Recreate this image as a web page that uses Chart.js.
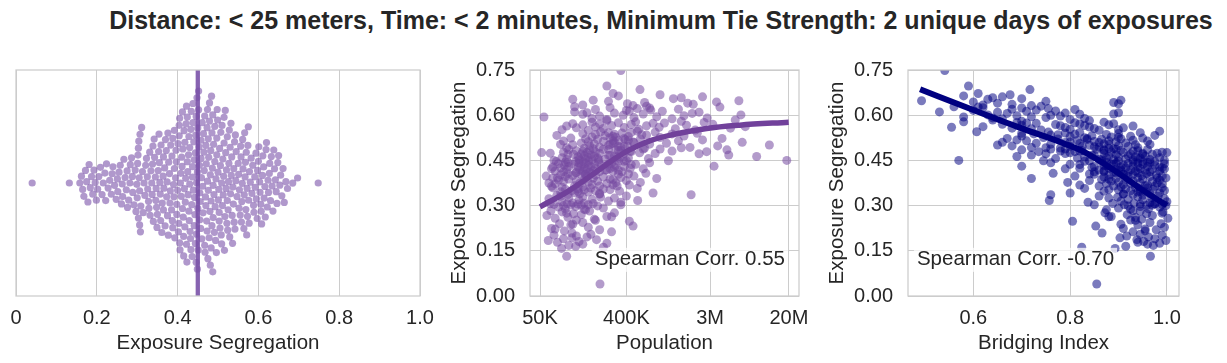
<!DOCTYPE html>
<html>
<head>
<meta charset="utf-8">
<script src="https://cdn.jsdelivr.net/npm/chart.js@4.4.0/dist/chart.umd.min.js"></script>
<style>
  body { margin: 0; background: #fff; width: 1227px; height: 363px; overflow: hidden; position: relative;
         font-family: "Liberation Sans", Arial, Helvetica, sans-serif; }
  #title { position: absolute; top: 6px; left: 0; width: 1322px; text-align: center; font-weight: bold;
           font-size: 25px; color: #262626; white-space: nowrap; }
  canvas { position: absolute; top: 50px; }
</style>
</head>
<body>
<div id="title">Distance: &lt; 25 meters, Time: &lt; 2 minutes, Minimum Tie Strength: 2 unique days of exposures</div>
<canvas id="swarm" width="440" height="313" style="left:0px"></canvas>
<canvas id="popChart" width="380" height="313" style="left:440px"></canvas>
<canvas id="bridgeChart" width="407" height="313" style="left:820px"></canvas>
<script>
// one entry per county: exposure segregation, population (thousands), bridging index
const segregation = [
  0.040, 0.132, 0.158, 0.162, 0.165, 0.168, 0.172, 0.175, 0.178, 0.181,
  0.184, 0.187, 0.190, 0.193, 0.196, 0.199, 0.202, 0.205, 0.209, 0.213,
  0.216, 0.220, 0.224, 0.228, 0.232, 0.236, 0.240, 0.244, 0.248, 0.252,
  0.255, 0.258, 0.261, 0.264, 0.267, 0.270, 0.273, 0.276, 0.279, 0.282,
  0.283, 0.286, 0.289, 0.292, 0.295, 0.297, 0.299, 0.300, 0.301, 0.302,
  0.303, 0.304, 0.305, 0.306, 0.307, 0.308, 0.309, 0.311, 0.313, 0.315,
  0.317, 0.319, 0.321, 0.323, 0.325, 0.326, 0.328, 0.329, 0.331, 0.332,
  0.334, 0.336, 0.337, 0.339, 0.340, 0.342, 0.343, 0.345, 0.346, 0.348,
  0.349, 0.350, 0.352, 0.353, 0.354, 0.355, 0.356, 0.357, 0.358, 0.359,
  0.361, 0.362, 0.364, 0.365, 0.366, 0.368, 0.369, 0.370, 0.372, 0.373,
  0.374, 0.376, 0.377, 0.378, 0.380, 0.381, 0.382, 0.383, 0.385, 0.386,
  0.387, 0.388, 0.390, 0.391, 0.392, 0.393, 0.395, 0.396, 0.397, 0.398,
  0.400, 0.401, 0.402, 0.403, 0.404, 0.405, 0.406, 0.407, 0.408, 0.409,
  0.410, 0.411, 0.412, 0.413, 0.414, 0.415, 0.416, 0.417, 0.418, 0.419,
  0.420, 0.421, 0.422, 0.423, 0.424, 0.425, 0.426, 0.427, 0.428, 0.429,
  0.430, 0.431, 0.432, 0.433, 0.434, 0.435, 0.436, 0.437, 0.438, 0.439,
  0.440, 0.441, 0.442, 0.443, 0.444, 0.445, 0.446, 0.447, 0.448, 0.449,
  0.450, 0.451, 0.452, 0.453, 0.454, 0.455, 0.456, 0.457, 0.458, 0.459,
  0.460, 0.461, 0.462, 0.463, 0.464, 0.465, 0.466, 0.467, 0.468, 0.469,
  0.470, 0.471, 0.472, 0.473, 0.474, 0.475, 0.476, 0.477, 0.478, 0.479,
  0.480, 0.481, 0.482, 0.483, 0.484, 0.485, 0.486, 0.487, 0.488, 0.489,
  0.450, 0.452, 0.455, 0.458, 0.404, 0.392, 0.467, 0.470, 0.473, 0.476,
  0.490, 0.491, 0.492, 0.493, 0.494, 0.496, 0.497, 0.498, 0.499, 0.500,
  0.501, 0.502, 0.504, 0.505, 0.506, 0.507, 0.508, 0.509, 0.510, 0.512,
  0.513, 0.514, 0.515, 0.516, 0.517, 0.518, 0.520, 0.521, 0.522, 0.523,
  0.524, 0.525, 0.526, 0.528, 0.529, 0.530, 0.531, 0.532, 0.533, 0.534,
  0.536, 0.537, 0.538, 0.539, 0.540, 0.541, 0.542, 0.544, 0.545, 0.547,
  0.550, 0.551, 0.552, 0.553, 0.555, 0.556, 0.557, 0.558, 0.559, 0.560,
  0.561, 0.562, 0.564, 0.565, 0.566, 0.567, 0.568, 0.569, 0.570, 0.571,
  0.572, 0.573, 0.574, 0.575, 0.576, 0.577, 0.578, 0.580, 0.582, 0.584,
  0.586, 0.588, 0.589, 0.591, 0.592, 0.594, 0.595, 0.597, 0.598, 0.600,
  0.601, 0.603, 0.604, 0.606, 0.607, 0.608, 0.610, 0.611, 0.613, 0.614,
  0.616, 0.617, 0.619, 0.620, 0.622, 0.624, 0.625, 0.627, 0.628, 0.630,
  0.632, 0.634, 0.636, 0.638, 0.640, 0.642, 0.644, 0.646, 0.648, 0.650,
  0.653, 0.655, 0.658, 0.661, 0.664, 0.668, 0.672, 0.685, 0.697, 0.748,
  0.222, 0.238, 0.251, 0.263, 0.275, 0.288, 0.303, 0.306, 0.338, 0.347,
  0.365, 0.375, 0.388, 0.398, 0.405, 0.415, 0.422, 0.430, 0.438, 0.446,
  0.412, 0.418, 0.424, 0.428, 0.433, 0.437, 0.441, 0.444, 0.447, 0.449,
  0.515, 0.523, 0.474, 0.479, 0.483, 0.487, 0.492, 0.497, 0.503, 0.509,
  0.481, 0.485, 0.488, 0.495, 0.503, 0.511, 0.519, 0.527, 0.535, 0.543
];
const populationK = [
  212, 95, 84, 230, 118, 100, 140, 250, 76, 128,
  61, 195, 88, 108, 155, 120, 70, 170, 108, 280,
  90, 210, 66, 160, 470, 105, 80, 140, 430, 120,
  185, 72, 98, 250, 59, 135, 112, 300, 85, 165,
  65, 150, 92, 230, 78, 118, 200, 88, 135, 105,
  160, 70, 125, 96, 180, 145, 110, 350, 85, 260,
  525, 128, 175, 62, 300, 100, 215, 140, 82, 400,
  75, 1900, 98, 130, 210, 760, 115, 160, 82, 340,
  190, 108, 145, 270, 92, 230, 125, 520, 170, 68,
  85, 140, 66, 210, 115, 430, 290, 175, 72, 250,
  130, 310, 560, 160, 88, 200, 120, 400, 78, 145,
  290, 100, 830, 180, 68, 350, 230, 92, 155, 480,
  110, 190, 82, 135, 330, 150, 98, 640, 170, 118,
  120, 165, 88, 210, 140, 72, 180, 330, 250, 130,
  95, 155, 600, 270, 190, 82, 145, 300, 125, 170,
  100, 3300, 135, 220, 90, 160, 450, 112, 185, 78,
  150, 128, 700, 98, 205, 142, 118, 380, 162, 1100,
  19000, 130, 175, 95, 240, 150, 680, 340, 200, 85,
  160, 320, 125, 9200, 185, 300, 145, 260, 4700, 170,
  98, 135, 2300, 210, 380, 550, 155, 88, 190, 2760,
  140, 1200, 120, 350, 165, 4500, 100, 230, 900, 180,
  70, 205, 128, 420, 148, 76, 270, 112, 800, 52,
  145, 620, 95, 1850, 210, 330, 380, 3600, 165, 260,
  12500, 110, 700, 185, 290, 1050, 135, 480, 6500, 160,
  230, 88, 1400, 330, 420, 2500, 200, 560, 150, 4000,
  105, 270, 900, 175, 420, 290, 1600, 240, 75, 650,
  190, 300, 1200, 140, 2200, 360, 260, 800, 215, 520,
  160, 2100, 85, 540, 1300, 230, 4900, 120, 380, 880,
  190, 7000, 95, 650, 280, 1700, 140, 450, 3200, 210,
  110, 760, 1000, 330, 2600, 175, 500, 1500, 250, 5500,
  250, 1200, 175, 2800, 480, 55, 830, 210, 1600, 370,
  6300, 140, 600, 1950, 300, 155, 2300, 115, 950, 430,
  400, 720, 190, 1400, 520, 700, 270, 3800, 115, 650,
  470, 140, 2000, 410, 1750, 620, 3500, 260, 6000, 180,
  110, 1240, 1500, 2500, 330, 900, 290, 555, 250, 350,
  72, 110, 190, 280, 95, 145, 350, 64, 210, 125,
  320, 62, 270, 58, 420, 290, 66, 380, 260, 74,
  360, 240, 440, 68, 310, 500, 280, 92, 330, 400,
  290, 380, 64, 450, 330, 260, 1500, 410, 82, 300,
  440, 310, 600, 350, 270, 470, 390, 310, 580, 450
];
const bridging = [
  0.855, 0.966, 0.893, 0.824, 0.915, 0.972, 0.960, 0.985, 0.940, 0.952,
  0.998, 0.938, 0.975, 0.903, 0.962, 0.917, 0.990, 0.945, 0.866, 0.930,
  0.955, 0.978, 0.910, 0.995, 0.853, 0.940, 0.988, 0.965, 0.805, 0.925,
  0.948, 1.002, 0.935, 0.885, 0.970, 0.918, 0.958, 0.872, 0.992, 0.945,
  0.930, 0.875, 0.962, 0.900, 0.985, 0.945, 0.920, 0.998, 0.958, 0.970,
  0.912, 0.990, 0.945, 0.975, 0.888, 0.932, 0.965, 0.837, 1.000, 0.905,
  0.757, 0.950, 0.920, 0.995, 0.880, 0.968, 0.898, 0.940, 0.982, 0.860,
  0.950, 0.760, 0.930, 0.910, 0.965, 0.800, 0.985, 0.940, 0.955, 0.870,
  0.925, 0.995, 0.900, 0.880, 0.972, 0.945, 0.915, 0.830, 0.960, 0.990,
  0.935, 0.905, 0.975, 0.890, 0.955, 0.820, 0.960, 0.910, 0.990, 0.875,
  0.925, 0.945, 0.795, 0.900, 0.970, 0.885, 0.930, 0.840, 0.985, 0.915,
  0.865, 0.950, 0.720, 0.895, 0.998, 0.940, 0.870, 0.965, 0.920, 0.810,
  0.948, 0.880, 0.978, 0.930, 0.850, 0.910, 0.958, 0.765, 0.895, 0.940,
  0.920, 0.890, 0.965, 0.870, 0.935, 0.985, 0.900, 0.955, 0.860, 0.925,
  0.970, 0.895, 0.790, 0.945, 0.880, 0.990, 0.915, 0.845, 0.940, 0.905,
  0.960, 0.700, 0.930, 0.870, 0.975, 0.910, 0.820, 0.950, 0.885, 0.995,
  0.920, 0.940, 0.760, 0.965, 0.875, 0.930, 0.950, 0.830, 0.900, 0.745,
  0.570, 0.930, 0.890, 0.965, 0.860, 0.915, 0.770, 0.945, 0.875, 0.985,
  0.900, 0.830, 0.935, 0.690, 0.880, 0.955, 0.920, 0.845, 0.720, 0.895,
  0.970, 0.925, 0.750, 0.870, 0.950, 0.800, 0.910, 0.990, 0.885, 0.735,
  0.930, 0.780, 0.940, 0.825, 0.905, 0.700, 0.960, 0.855, 0.760, 0.890,
  0.995, 0.865, 0.940, 0.815, 0.910, 0.980, 0.850, 0.950, 0.790, 1.000,
  0.880, 0.780, 0.940, 0.720, 0.860, 0.920, 0.800, 0.680, 0.900, 0.840,
  0.650, 0.935, 0.760, 0.870, 0.820, 0.730, 0.915, 0.790, 0.660, 0.895,
  0.850, 0.960, 0.710, 0.815, 0.930, 0.690, 0.865, 0.775, 0.905, 0.670,
  0.950, 0.830, 0.745, 0.885, 0.800, 0.925, 0.700, 0.845, 0.975, 0.760,
  0.875, 0.810, 0.725, 0.900, 0.700, 0.790, 0.945, 0.755, 0.607, 0.985,
  0.860, 0.740, 0.900, 0.800, 0.720, 0.850, 0.680, 0.910, 0.790, 0.555,
  0.840, 0.620, 0.930, 0.780, 0.830, 0.700, 0.880, 0.770, 0.660, 0.820,
  0.890, 0.730, 0.710, 0.810, 0.690, 0.870, 0.580, 0.700, 0.840, 0.640,
  0.800, 0.660, 0.830, 0.640, 0.750, 0.580, 0.720, 0.780, 0.690, 0.760,
  0.630, 0.820, 0.890, 0.670, 0.790, 0.900, 0.650, 0.530, 0.710, 0.770,
  0.600, 0.730, 0.810, 0.680, 0.755, 0.700, 0.620, 0.610, 0.560, 0.740,
  0.720, 0.620, 0.680, 0.900, 0.650, 0.890, 0.600, 0.750, 0.493, 0.905,
  0.630, 0.700, 0.640, 0.660, 0.580, 0.676, 0.610, 0.717, 0.590, 0.541,
  0.955, 0.905, 0.935, 0.880, 0.990, 0.925, 0.850, 0.975, 0.910, 0.945,
  0.860, 0.980, 0.880, 0.990, 0.840, 0.870, 0.995, 0.850, 0.890, 0.975,
  0.850, 0.905, 0.820, 0.985, 0.875, 0.800, 0.895, 0.960, 0.865, 0.840,
  0.880, 0.835, 0.980, 0.810, 0.870, 0.895, 0.750, 0.825, 0.965, 0.860,
  0.820, 0.870, 0.790, 0.850, 0.880, 0.800, 0.835, 0.900, 0.775, 0.820
];

// vertical marker in the swarm panel
const segregationMarker = 0.45;

// smoothed trend lines
const popFitK = [50, 95, 190, 300, 430, 700, 1200, 2760, 6150, 19900];
const popFitSeg = [0.296, 0.345, 0.410, 0.455, 0.485, 0.515, 0.535, 0.556, 0.567, 0.577];
const bridgeFitX = [0.490, 0.600, 0.690, 0.786, 0.828, 0.890, 0.945, 1.000];
const bridgeFitSeg = [0.686, 0.617, 0.562, 0.507, 0.479, 0.418, 0.357, 0.300];

// ticks
const swarmTicks = [0, 0.2, 0.4, 0.6, 0.8, 1.0];
const swarmTickLabels = ['0', '0.2', '0.4', '0.6', '0.8', '1.0'];
const segTicks = [0, 0.15, 0.30, 0.45, 0.60, 0.75];
const segTickLabels = ['0.00', '0.15', '0.30', '0.45', '0.60', '0.75'];
const popTicksK = [50, 400, 3000, 20000];
const popTickLabels = ['50K', '400K', '3M', '20M'];
const bridgeTicks = [0.6, 0.8, 1.0];
const bridgeTickLabels = ['0.6', '0.8', '1.0'];

const popCorr = 'Spearman Corr. 0.55';
const bridgeCorr = 'Spearman Corr. -0.70';

const FONT = '"Liberation Sans", Arial, Helvetica, sans-serif';
Chart.defaults.font.family = FONT;
Chart.defaults.color = '#262626';
Chart.defaults.animation = false;
Chart.defaults.plugins.legend.display = false;
Chart.defaults.plugins.tooltip.enabled = false;

const GRID = '#cccccc';
const TICK_FONT = { size: 20 };
const TITLE_FONT = { size: 20.5 };

function fixedX(h) { return s => { s.height = h; s.paddingLeft = 0; s.paddingRight = 0; }; }
function fixedY(w) { return s => { s.width = w; s.paddingTop = 0; s.paddingBottom = 0; }; }
function setTicks(vals) { return s => { s.ticks = vals.map(v => ({ value: v })); }; }
function labelFor(vals, labels) {
  return v => { const i = vals.indexOf(v); return i < 0 ? '' : labels[i]; };
}

// frame round the plot and the correlation note
const framePlugin = {
  id: 'frame',
  afterDatasetsDraw(chart, args, opts) {
    const { ctx, chartArea: a } = chart;
    ctx.save();
    if (opts.note) {
      ctx.font = '20.5px ' + FONT;
      ctx.textBaseline = 'middle';
      ctx.textAlign = opts.align;
      const w = ctx.measureText(opts.note).width;
      const x = a.left + opts.nx * (a.right - a.left);
      const y = a.bottom - opts.ny * (a.bottom - a.top);
      const x0 = opts.align === 'right' ? x - w : x;
      ctx.fillStyle = 'rgba(255,255,255,0.75)';
      ctx.fillRect(x0 - 3, y - 12, w + 6, 24);
      ctx.fillStyle = '#262626';
      ctx.fillText(opts.note, x, y);
    }
    ctx.strokeStyle = GRID;
    ctx.lineWidth = 1.25;
    ctx.strokeRect(a.left, a.top, a.right - a.left, a.bottom - a.top);
    ctx.restore();
  }
};

// seaborn-like swarm: place points in value order, nearest free spot to the midline
function beeswarm(values, pxPerUnit, d) {
  const order = values.map((v, i) => i).sort((a, b) => values[a] - values[b]);
  const placed = [];
  const out = new Array(values.length);
  order.forEach(i => {
    const x = values[i] * pxPerUnit;
    const near = placed.filter(p => x - p.x < d);
    const cands = [0];
    near.forEach(p => {
      const dy = Math.sqrt(d * d - (x - p.x) * (x - p.x));
      cands.push(p.y + dy, p.y - dy);
    });
    cands.sort((a, b) => Math.abs(a) - Math.abs(b));
    const y = cands.find(c => near.every(p => (x - p.x) ** 2 + (c - p.y) ** 2 >= d * d - 0.01));
    placed.push({ x, y });
    out[i] = y;
  });
  return out;
}

const swarmOffsets = beeswarm(segregation, 404, 7);

new Chart(document.getElementById('swarm'), {
  type: 'scatter',
  plugins: [framePlugin],
  data: {
    datasets: [{
      type: 'line',
      data: [{ x: segregationMarker, y: -113 }, { x: segregationMarker, y: 113 }],
      borderColor: 'rgba(122,82,168,0.9)',
      borderWidth: 4.3,
      pointRadius: 0,
      order: 0
    }, {
      data: segregation.map((v, i) => ({ x: v, y: swarmOffsets[i] })),
      backgroundColor: 'rgba(128,88,172,0.62)',
      borderWidth: 0,
      pointRadius: 3.6,
      order: 1
    }]
  },
  options: {
    responsive: false,
    devicePixelRatio: 1,
    events: [],
    layout: { padding: { left: 16, right: 20, top: 20, bottom: 0 } },
    plugins: { frame: {} },
    scales: {
      x: {
        type: 'linear', min: 0, max: 1,
        afterBuildTicks: setTicks(swarmTicks),
        afterFit: fixedX(67),
        grid: { color: GRID, lineWidth: 1, drawTicks: false },
        border: { display: false },
        ticks: { font: TICK_FONT, padding: 10.5, autoSkip: false, maxRotation: 0,
                 callback: labelFor(swarmTicks, swarmTickLabels) },
        title: { display: true, text: 'Exposure Segregation', font: TITLE_FONT, padding: { top: 0, bottom: 7.5 } }
      },
      y: { display: false, min: -113, max: 113 }
    }
  }
});

function segAxis(cfg) {
  return {
    type: 'linear', min: 0, max: 0.75,
    afterBuildTicks: setTicks(segTicks),
    afterFit: fixedY(cfg.width),
    grid: { color: GRID, lineWidth: 1, drawTicks: false },
    border: { display: false },
    ticks: { font: TICK_FONT, padding: 15, autoSkip: false, callback: labelFor(segTicks, segTickLabels) },
    title: { display: true, text: 'Exposure Segregation', font: TITLE_FONT, padding: { top: cfg.top, bottom: 0 } }
  };
}

new Chart(document.getElementById('popChart'), {
  type: 'scatter',
  plugins: [framePlugin],
  data: {
    datasets: [{
      type: 'line',
      data: popFitK.map((p, i) => ({ x: p, y: popFitSeg[i] })),
      borderColor: '#71419b',
      borderWidth: 5.5,
      pointRadius: 0,
      cubicInterpolationMode: 'monotone',
      order: 0
    }, {
      data: populationK.map((p, i) => ({ x: p, y: segregation[i] })),
      backgroundColor: 'rgba(117,72,160,0.55)',
      borderWidth: 0,
      pointRadius: 4.5,
      order: 1
    }]
  },
  options: {
    responsive: false,
    devicePixelRatio: 1,
    events: [],
    layout: { padding: { left: 0, right: 21, top: 20, bottom: 0 } },
    plugins: { frame: { note: popCorr, nx: 0.948, ny: 0.16, align: 'right' } },
    scales: {
      x: {
        type: 'logarithmic', min: 39.3, max: 25500,
        afterBuildTicks: setTicks(popTicksK),
        afterFit: fixedX(67),
        grid: { color: GRID, lineWidth: 1, drawTicks: false },
        border: { display: false },
        ticks: { font: TICK_FONT, padding: 10.5, autoSkip: false, maxRotation: 0,
                 callback: labelFor(popTicksK, popTickLabels) },
        title: { display: true, text: 'Population', font: TITLE_FONT, padding: { top: 0, bottom: 7.5 } }
      },
      y: segAxis({ width: 90, top: 7.5 })
    }
  }
});

new Chart(document.getElementById('bridgeChart'), {
  type: 'scatter',
  plugins: [framePlugin],
  data: {
    datasets: [{
      type: 'line',
      data: bridgeFitX.map((b, i) => ({ x: b, y: bridgeFitSeg[i] })),
      borderColor: '#000080',
      borderWidth: 6,
      pointRadius: 0,
      cubicInterpolationMode: 'monotone',
      order: 0
    }, {
      data: bridging.map((b, i) => ({ x: b, y: segregation[i] })),
      backgroundColor: 'rgba(0,0,128,0.52)',
      borderWidth: 0,
      pointRadius: 4.5,
      order: 1
    }]
  },
  options: {
    responsive: false,
    devicePixelRatio: 1,
    events: [],
    layout: { padding: { left: 0, right: 48, top: 20, bottom: 0 } },
    plugins: { frame: { note: bridgeCorr, nx: 0.033, ny: 0.16, align: 'left' } },
    scales: {
      x: {
        type: 'linear', min: 0.465, max: 1.025,
        afterBuildTicks: setTicks(bridgeTicks),
        afterFit: fixedX(67),
        grid: { color: GRID, lineWidth: 1, drawTicks: false },
        border: { display: false },
        ticks: { font: TICK_FONT, padding: 10.5, autoSkip: false, maxRotation: 0,
                 callback: labelFor(bridgeTicks, bridgeTickLabels) },
        title: { display: true, text: 'Bridging Index', font: TITLE_FONT, padding: { top: 0, bottom: 7.5 } }
      },
      y: segAxis({ width: 88, top: 5.5 })
    }
  }
});
</script>
</body>
</html>
